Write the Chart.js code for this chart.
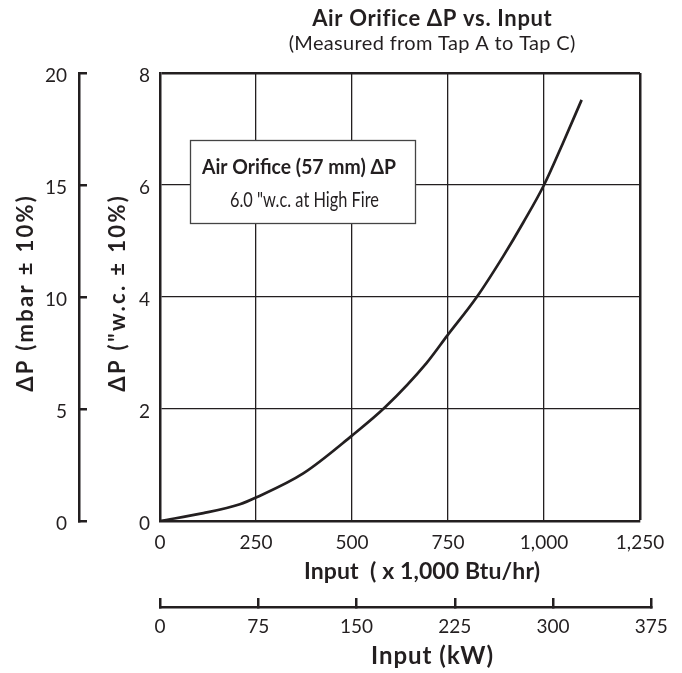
<!DOCTYPE html>
<html><head><meta charset="utf-8">
<script src="https://cdn.jsdelivr.net/npm/chart.js@4"></script>
<style>html,body{margin:0;padding:0;background:#fff}canvas{display:block}</style>
</head><body>
<canvas id="c" width="682" height="673"></canvas>
<script>
// ---- data ----
const inputBtu  = [0, 113, 208, 250, 373, 499, 586, 694, 748, 825, 894, 946, 1000, 1050, 1098]; // x 1,000 Btu/hr
const deltaPwc  = [0, 0.14, 0.30, 0.42, 0.85, 1.52, 2.03, 2.82, 3.31, 4.00, 4.73, 5.33, 6.00, 6.76, 7.52]; // "w.c.
const btuTicks      = [0, 250, 500, 750, 1000, 1250];
const btuTickLabels = ['0', '250', '500', '750', '1,000', '1,250'];
const wcTicks   = [0, 2, 4, 6, 8];
const mbarTicks = [0, 5, 10, 15, 20];
const kwTicks   = [0, 75, 150, 225, 300, 375];
const BTU_PER_KW = 3.412; // thousand Btu/hr per kW

const INK = '#231f20';
const FONT = 'Lato, "Open Sans", sans-serif';

function setTicks(values) { return s => { s.ticks = values.map(v => ({ value: v })); }; }

const points = inputBtu.map((x, i) => ({ x: x, y: deltaPwc[i] }));

// draw centred text stretched (via letter spacing) to a target width
function fitText(ctx, text, cx, y, target) {
  ctx.letterSpacing = '0px';
  const w = ctx.measureText(text).width;
  if (w >= target) { ctx.fillText(text, cx, y, target); return; }
  const extra = (target - w) / text.length;
  ctx.letterSpacing = extra + 'px';
  ctx.fillText(text, cx + extra / 2, y);
  ctx.letterSpacing = '0px';
}

const textPlugin = {
  id: 'texts',
  afterLayout(chart) {
    const x = chart.scales.x, x2 = chart.scales.x2;
    x2.left = x.getPixelForValue(0);
    x2.right = x.getPixelForValue(kwTicks[kwTicks.length - 1] * BTU_PER_KW);
    x2.width = x2.right - x2.left;
    x2.configure();
  },
  afterDraw(chart) {
    const ctx = chart.ctx;
    ctx.save();
    ctx.fillStyle = INK;
    ctx.textAlign = 'center';
    ctx.textBaseline = 'alphabetic';
    ctx.font = 'bold 22px ' + FONT;
    fitText(ctx, 'Air Orifice \u0394P vs. Input', 432, 26, 240);
    ctx.font = '20px ' + FONT;
    fitText(ctx, '(Measured from Tap A to Tap C)', 432, 50, 287);
    ctx.font = 'bold 23px ' + FONT;
    fitText(ctx, 'Input  ( x 1,000 Btu/hr)', 422, 579, 236);
    ctx.font = 'bold 24px ' + FONT;
    fitText(ctx, 'Input (kW)', 432, 664, 123);

    const vTitle = (text, bx, cy, target) => {
      ctx.save();
      ctx.translate(bx, cy);
      ctx.rotate(-Math.PI / 2);
      fitText(ctx, text, 0, 0, target);
      ctx.restore();
    };
    ctx.font = 'bold 22px ' + FONT;
    vTitle('\u0394P (mbar \u00b1 10%)', 33, 294, 198);
    vTitle('\u0394P ("w.c. \u00b1 10%)', 125, 294, 198);

    // annotation box
    ctx.fillStyle = '#fff';
    ctx.fillRect(190, 140, 226, 83);
    ctx.strokeStyle = '#444';
    ctx.lineWidth = 1.3;
    ctx.strokeRect(190.5, 140.5, 225, 83);
    ctx.fillStyle = INK;
    ctx.textAlign = 'left';
    ctx.font = 'bold 21px ' + FONT;
    ctx.fillText('Air Orifice (57 mm) \u0394P', 202, 174, 194);
    ctx.font = '21px ' + FONT;
    ctx.fillText('6.0 "w.c. at High Fire', 230, 207, 149);
    ctx.restore();
  }
};

const tickFont = { family: FONT, size: 19 };

new Chart(document.getElementById('c'), {
  type: 'line',
  data: {
    datasets: [{
      data: points,
      borderColor: INK,
      borderWidth: 2.7,
      pointRadius: 0,
      fill: false,
      cubicInterpolationMode: 'monotone'
    }]
  },
  options: {
    responsive: false,
    animation: false,
    devicePixelRatio: 1,
    layout: { padding: { top: 73, right: 42, bottom: 0, left: 0 } },
    plugins: { legend: { display: false }, tooltip: { enabled: false }, title: { display: false } },
    scales: {
      x: {
        type: 'linear', position: 'bottom', min: 0, max: 1250, weight: 0,
        afterBuildTicks: setTicks(btuTicks),
        afterFit: s => { s.height = 86; },
        grid: { color: INK, lineWidth: c => (c.tick && c.tick.value === 1250 ? 2.5 : 1.3), drawTicks: false },
        border: { color: INK, width: 2.5 },
        ticks: { color: INK, font: tickFont, padding: 10, maxRotation: 0, autoSkip: false,
                 callback: (v, i) => btuTickLabels[i] }
      },
      x2: {
        type: 'linear', position: 'bottom', min: 0, max: 375, weight: 1,
        afterBuildTicks: setTicks(kwTicks),
        afterFit: s => { s.height = 66; },
        grid: { color: INK, lineWidth: 2.5, drawOnChartArea: false, drawTicks: true, tickLength: -9 },
        border: { color: INK, width: 2.5 },
        ticks: { color: INK, font: tickFont, padding: 17, maxRotation: 0, autoSkip: false }
      },
      y: {
        type: 'linear', position: 'left', min: 0, max: 8, weight: 0,
        afterBuildTicks: setTicks(wcTicks),
        afterFit: s => { s.width = 81; },
        grid: { color: INK, lineWidth: c => (c.tick && c.tick.value === 8 ? 2.5 : 1.3), drawTicks: false },
        border: { color: INK, width: 2.5 },
        ticks: { color: INK, font: tickFont, padding: 10, labelOffset: 3 }
      },
      y2: {
        type: 'linear', position: 'left', min: 0, max: 20, weight: 1,
        afterBuildTicks: setTicks(mbarTicks),
        afterFit: s => { s.width = 79; },
        grid: { color: INK, lineWidth: 2.5, drawOnChartArea: false, drawTicks: true, tickLength: -8 },
        border: { color: INK, width: 2.5 },
        ticks: { color: INK, font: tickFont, padding: 20, labelOffset: 3 }
      }
    }
  },
  plugins: [textPlugin]
});
</script>
</body></html>
